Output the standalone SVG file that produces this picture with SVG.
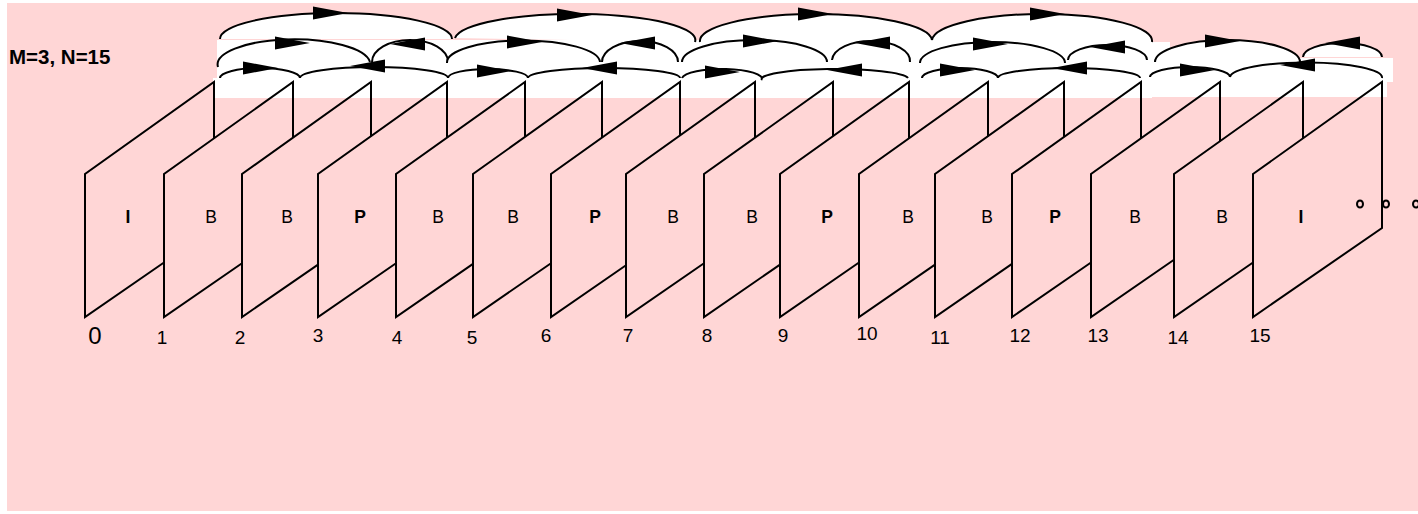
<svg xmlns="http://www.w3.org/2000/svg" width="1418" height="514" viewBox="0 0 1418 514">
<style>
.bg{fill:#FFD6D6}
.band{fill:#FFFFFF}
.fr{fill:none;stroke:#000;stroke-width:2;stroke-linejoin:miter}
.arc{fill:#FFFFFF;stroke:#000;stroke-width:2}
.ah{fill:#000}
.lbl{font-family:"Liberation Sans",Arial,sans-serif;font-size:17.5px;fill:#000;text-anchor:middle}
.b{font-weight:bold}
.num{font-family:"Liberation Sans",Arial,sans-serif;font-size:19px;fill:#000;text-anchor:middle}
.dot{fill:none;stroke:#000;stroke-width:2}
</style>
<defs>
<path id="ah" d="M0 0 L-35 -6.5 L-35 6.5 Z"/>
</defs>
<rect x="0" y="0" width="1418" height="514" fill="#FFFFFF"/>
<rect class="bg" x="7" y="3" width="1411" height="508"/>
<g id="band">
<rect class="band" x="217" y="40" width="935" height="58"/>
<rect class="band" x="213" y="78" width="5" height="20"/>
<rect class="band" x="1150" y="42" width="20" height="55"/>
<rect class="band" x="1170" y="58" width="223" height="24"/>
<rect class="band" x="1170" y="82" width="217" height="15"/>
</g>
<text class="lbl b" x="9" y="64" style="text-anchor:start;font-size:20.5px">M=3, N=15</text>
<g id="frame-0"><path class="fr" d="M214 138.3 L214 82 L85 174 L85 317 L164 262.5"/><text class="lbl b" x="128" y="223">I</text><text class="num" x="95" y="344" style="font-size:24px">0</text></g>
<g id="frame-1"><path class="fr" d="M293 137.6 L293 82 L164 174 L164 317 L242 263.2"/><text class="lbl" x="211" y="223">B</text><text class="num" x="162" y="344">1</text></g>
<g id="frame-2"><path class="fr" d="M371 136.2 L371 82 L242 174 L242 317 L318 264.6"/><text class="lbl" x="287" y="223">B</text><text class="num" x="240" y="344">2</text></g>
<g id="frame-3"><path class="fr" d="M447 137.6 L447 82 L318 174 L318 317 L396 263.2"/><text class="lbl b" x="360" y="223">P</text><text class="num" x="318" y="342">3</text></g>
<g id="frame-4"><path class="fr" d="M525 136.9 L525 82 L396 174 L396 317 L473 263.9"/><text class="lbl" x="438" y="223">B</text><text class="num" x="397" y="344">4</text></g>
<g id="frame-5"><path class="fr" d="M602 137.6 L602 82 L473 174 L473 317 L551 263.2"/><text class="lbl" x="513" y="223">B</text><text class="num" x="472" y="344">5</text></g>
<g id="frame-6"><path class="fr" d="M680 135.5 L680 82 L551 174 L551 317 L626 265.3"/><text class="lbl b" x="595" y="223">P</text><text class="num" x="546" y="342">6</text></g>
<g id="frame-7"><path class="fr" d="M755 137.6 L755 82 L626 174 L626 317 L704 263.2"/><text class="lbl" x="673" y="223">B</text><text class="num" x="628" y="342">7</text></g>
<g id="frame-8"><path class="fr" d="M833 136.2 L833 82 L704 174 L704 317 L780 264.6"/><text class="lbl" x="752" y="223">B</text><text class="num" x="707" y="342">8</text></g>
<g id="frame-9"><path class="fr" d="M909 138.3 L909 82 L780 174 L780 317 L859 262.5"/><text class="lbl b" x="827" y="223">P</text><text class="num" x="783" y="342">9</text></g>
<g id="frame-10"><path class="fr" d="M988 136.2 L988 82 L859 174 L859 317 L935 264.6"/><text class="lbl" x="908" y="223">B</text><text class="num" x="867" y="340">10</text></g>
<g id="frame-11"><path class="fr" d="M1064 136.9 L1064 82 L935 174 L935 317 L1012 263.9"/><text class="lbl" x="987" y="223">B</text><text class="num" x="940" y="344">11</text></g>
<g id="frame-12"><path class="fr" d="M1141 138.3 L1141 82 L1012 174 L1012 317 L1091 262.5"/><text class="lbl b" x="1055" y="223">P</text><text class="num" x="1020" y="342">12</text></g>
<g id="frame-13"><path class="fr" d="M1220 141.2 L1220 82 L1091 174 L1091 317 L1174 259.7"/><text class="lbl" x="1135" y="223">B</text><text class="num" x="1098" y="342">13</text></g>
<g id="frame-14"><path class="fr" d="M1303 138.3 L1303 82 L1174 174 L1174 317 L1253 262.5"/><text class="lbl" x="1222" y="223">B</text><text class="num" x="1178" y="344">14</text></g>
<g id="frame-15"><path class="fr" d="M1253 174 L1382 82 L1382 228 L1253 317 Z"/><text class="lbl b" x="1301" y="223">I</text><text class="num" x="1260" y="342">15</text></g>
<g id="continuation">
<ellipse class="dot" cx="1360" cy="204" rx="3" ry="3.5"/>
<ellipse class="dot" cx="1386" cy="204" rx="3" ry="3.5"/>
<ellipse class="dot" cx="1416" cy="204" rx="3" ry="3.5"/>
</g>
<g id="connectors">
<path class="arc" d="M220 39 A116 26 0 0 1 452 39"/>
<path class="arc" d="M455 38 A120 26 0 0 1 695 42"/>
<path class="arc" d="M700 42 A116 27 0 0 1 932 40"/>
<path class="arc" d="M932 40 A110 27 0 0 1 1152 42"/>
<path class="arc" d="M218 67 A76 25 0 0 1 370 62"/>
<path class="arc" d="M372 62 A38 22 0 0 1 448 62"/>
<path class="arc" d="M447 63 A76.5 22 0 0 1 600 62"/>
<path class="arc" d="M602 62 A38 21 0 0 1 678 62"/>
<path class="arc" d="M682 62 A72.5 22 0 0 1 827 62"/>
<path class="arc" d="M832 60 A39 20 0 0 1 910 62"/>
<path class="arc" d="M920 63 A72.5 21 0 0 1 1065 63"/>
<path class="arc" d="M1068 60 A39.5 15 0 0 1 1147 60"/>
<path class="arc" d="M1155 62 A72.5 22 0 0 1 1300 62"/>
<path class="arc" d="M1303 57 A39.5 14 0 0 1 1382 57"/>
<path class="arc" d="M220 78 A40 10 0 0 1 300 78"/>
<path class="arc" d="M300 78 A74 11 0 0 1 448 78"/>
<path class="arc" d="M448 78 A40 9 0 0 1 528 78"/>
<path class="arc" d="M528 78 A76 10 0 0 1 680 78"/>
<path class="arc" d="M682 78 A40 10 0 0 1 762 80"/>
<path class="arc" d="M762 80 A73 10 0 0 1 908 78"/>
<path class="arc" d="M922 78 A38 10 0 0 1 998 78"/>
<path class="arc" d="M998 78 A71 10 0 0 1 1140 78"/>
<path class="arc" d="M1150 77 A40 10 0 0 1 1230 77"/>
<path class="arc" d="M1230 77 A76 15 0 0 1 1382 78"/>
<use href="#ah" class="ah" transform="translate(348 13)"/>
<use href="#ah" class="ah" transform="translate(310 43)"/>
<use href="#ah" class="ah" transform="translate(390 44) scale(-1 1)"/>
<use href="#ah" class="ah" transform="translate(278 68)"/>
<use href="#ah" class="ah" transform="translate(350 66) scale(-1 1)"/>
<use href="#ah" class="ah" transform="translate(592 15)"/>
<use href="#ah" class="ah" transform="translate(542 42)"/>
<use href="#ah" class="ah" transform="translate(620 43) scale(-1 1)"/>
<use href="#ah" class="ah" transform="translate(512 71)"/>
<use href="#ah" class="ah" transform="translate(582 68) scale(-1 1)"/>
<use href="#ah" class="ah" transform="translate(833 14)"/>
<use href="#ah" class="ah" transform="translate(778 41)"/>
<use href="#ah" class="ah" transform="translate(855 43) scale(-1 1)"/>
<use href="#ah" class="ah" transform="translate(740 72)"/>
<use href="#ah" class="ah" transform="translate(827 70) scale(-1 1)"/>
<use href="#ah" class="ah" transform="translate(1065 14)"/>
<use href="#ah" class="ah" transform="translate(1008 44)"/>
<use href="#ah" class="ah" transform="translate(1090 47) scale(-1 1)"/>
<use href="#ah" class="ah" transform="translate(975 70)"/>
<use href="#ah" class="ah" transform="translate(1052 68) scale(-1 1)"/>
<use href="#ah" class="ah" transform="translate(1240 41)"/>
<use href="#ah" class="ah" transform="translate(1325 43) scale(-1 1)"/>
<use href="#ah" class="ah" transform="translate(1215 70)"/>
<use href="#ah" class="ah" transform="translate(1280 65) scale(-1 1)"/>
</g>
</svg>
